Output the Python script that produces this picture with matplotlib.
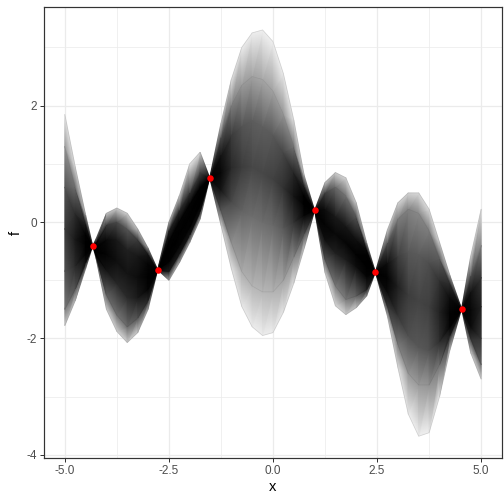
import numpy as np
import matplotlib
matplotlib.use("Agg")
import matplotlib.pyplot as plt
import matplotlib.tri as mtri

plt.rcParams['font.family'] = ['Liberation Sans', 'DejaVu Sans']

# observed points (red)
obs_x = [-4.33, -2.77, -1.52, 1.00, 2.46, 4.53]
obs_y = [-0.41, -0.82, 0.76, 0.20, -0.86, -1.49]

xs = [-5.0, -4.75, -4.5, -4.33, -4.25, -4.0, -3.75, -3.5, -3.25, -3.0, -2.77,
      -2.5, -2.25, -2.0, -1.75, -1.52, -1.25, -1.0, -0.75, -0.5, -0.25, 0.0,
      0.25, 0.5, 0.75, 1.0, 1.25, 1.5, 1.75, 2.0, 2.25, 2.46, 2.75, 3.0,
      3.25, 3.5, 3.75, 4.0, 4.25, 4.53, 4.75, 5.0]

# envelope of the sample curves: lowest, ~5%, ~20%, middle, ~80%, ~95%, highest
f_min = [-1.78, -1.35, -0.80, -0.41, -0.62, -1.50, -1.88, -2.07, -1.90, -1.50, -0.82,
         -1.00, -0.70, -0.35, 0.05, 0.76, -0.05, -0.80, -1.45, -1.80, -1.95, -1.90,
         -1.55, -1.05, -0.45, 0.20, -0.87, -1.44, -1.59, -1.47, -1.27, -0.86, -1.62, -2.50,
         -3.30, -3.68, -3.62, -3.00, -2.20, -1.49, -2.25, -2.70]
f_lo95 = [-1.50, -1.15, -0.70, -0.41, -0.57, -1.25, -1.60, -1.80, -1.65, -1.35, -0.82,
          -0.85, -0.55, -0.22, 0.18, 0.76, 0.20, -0.35, -0.85, -1.10, -1.20, -1.20,
          -1.00, -0.60, -0.20, 0.20, -0.64, -1.10, -1.33, -1.27, -1.16, -0.86, -1.45, -2.10,
          -2.60, -2.80, -2.80, -2.45, -1.95, -1.49, -2.00, -2.45]
f_lo80 = [-0.85, -0.75, -0.55, -0.41, -0.51, -0.82, -1.05, -1.30, -1.30, -1.15, -0.82,
          -0.68, -0.40, -0.08, 0.30, 0.76, 0.55, 0.35, 0.20, 0.10, 0.00, -0.05,
          -0.10, 0.00, 0.12, 0.20, -0.30, -0.53, -0.64, -0.76, -0.93, -0.86, -1.20, -1.60,
          -1.95, -2.15, -2.20, -2.05, -1.80, -1.49, -1.80, -2.00]
f_mid = [-0.12, -0.30, -0.37, -0.41, -0.46, -0.55, -0.67, -0.88, -0.95, -0.95, -0.82,
         -0.50, -0.18, 0.12, 0.45, 0.76, 0.85, 0.95, 0.95, 0.95, 0.85, 0.75,
         0.60, 0.45, 0.30, 0.20, -0.04, -0.20, -0.35, -0.55, -0.75, -0.86, -0.95, -1.10,
         -1.25, -1.35, -1.45, -1.55, -1.57, -1.49, -1.50, -1.45]
f_hi80 = [0.60, 0.15, -0.20, -0.41, -0.41, -0.30, -0.30, -0.47, -0.58, -0.72, -0.82,
          -0.32, 0.02, 0.32, 0.60, 0.76, 1.15, 1.50, 1.65, 1.75, 1.65, 1.50,
          1.20, 0.85, 0.45, 0.20, 0.22, 0.10, -0.07, -0.30, -0.58, -0.86, -0.70, -0.58,
          -0.50, -0.55, -0.70, -1.00, -1.30, -1.49, -1.20, -0.95]
f_hi95 = [1.30, 0.60, -0.02, -0.41, -0.35, -0.05, 0.00, -0.12, -0.30, -0.55, -0.82,
          -0.15, 0.20, 0.50, 0.85, 0.76, 1.45, 2.00, 2.35, 2.50, 2.45, 2.25,
          1.85, 1.30, 0.62, 0.20, 0.50, 0.60, 0.45, 0.10, -0.47, -0.86, -0.36, 0.05,
          0.22, 0.15, -0.15, -0.62, -1.05, -1.49, -0.93, -0.40]
f_max = [1.85, 0.95, 0.12, -0.41, -0.29, 0.15, 0.24, 0.15, -0.12, -0.45, -0.82,
         0.00, 0.45, 1.00, 1.20, 0.76, 1.70, 2.45, 3.00, 3.25, 3.30, 3.10,
         2.55, 1.75, 0.80, 0.20, 0.68, 0.85, 0.76, 0.33, -0.36, -0.86, -0.13, 0.33,
         0.50, 0.50, 0.22, -0.35, -0.92, -1.49, -0.58, 0.22]

# share of curves lying between two neighbouring envelope lines
band_share = [0.05, 0.15, 0.30, 0.30, 0.15, 0.05]

fig = plt.figure(figsize=(7, 7), dpi=72)
ax = fig.add_axes([0.0873, 0.0907, 0.9087, 0.8948])

levels = [f_min, f_lo95, f_lo80, f_mid, f_hi80, f_hi95, f_max]
nl = len(levels)

# darkness of the overlapping curves at each envelope vertex
px, py, shade = [], [], []
for i in range(len(xs)):
    dens = [band_share[k] / max(levels[k + 1][i] - levels[k][i], 0.005)
            for k in range(nl - 1)]
    for k in range(nl):
        if k == 0:
            d = dens[0] * 0.3
        elif k == nl - 1:
            d = dens[-1] * 0.3
        else:
            d = (dens[k - 1] + dens[k]) / 2
        px.append(xs[i])
        py.append(levels[k][i])
        shade.append(1 - np.exp(-3.5 * d))

tris = []
for i in range(len(xs) - 1):
    for k in range(nl - 1):
        a = i * nl + k
        c = (i + 1) * nl + k
        tris.append([a, c, c + 1])
        tris.append([a, c + 1, a + 1])
tri = mtri.Triangulation(px, py, tris)

ax.tripcolor(tri, shade, shading='gouraud', cmap='gray_r',
             vmin=0, vmax=1, zorder=2)

# faint strokes along the outer curves
for lv, al in zip(levels, [0.12, 0.08, 0.0, 0.0, 0.0, 0.08, 0.12]):
    if al > 0:
        ax.plot(xs, lv, color='black', alpha=al, lw=0.7, zorder=3)

ax.scatter(obs_x, obs_y, s=42, color='red', zorder=5, linewidths=0)

ax.set_xlim(-5.5, 5.5)
ax.set_ylim(-4.06, 3.69)
ax.set_xticks([-5, -2.5, 0, 2.5, 5])
ax.set_xticklabels(['-5.0', '-2.5', '0.0', '2.5', '5.0'])
ax.set_yticks([-4, -2, 0, 2])
ax.set_yticklabels(['-4', '-2', '0', '2'])
ax.set_xticks([-3.75, -1.25, 1.25, 3.75], minor=True)
ax.set_yticks([-3, -1, 1, 3], minor=True)
ax.grid(True, which='major', color='#ebebeb', lw=1.3)
ax.grid(True, which='minor', color='#ebebeb', lw=0.7)
ax.set_axisbelow(True)
ax.tick_params(which='major', length=3.7, width=1.0, color='#333333',
               labelcolor='#4d4d4d', labelsize=11.7, pad=3)
ax.tick_params(which='minor', length=0)
for s in ax.spines.values():
    s.set_color('#333333')
    s.set_linewidth(1.2)
ax.set_xlabel('x', fontsize=14.7, labelpad=3)
ax.set_ylabel('f', fontsize=14.7, labelpad=4)

fig.savefig('out.png', dpi=72)
